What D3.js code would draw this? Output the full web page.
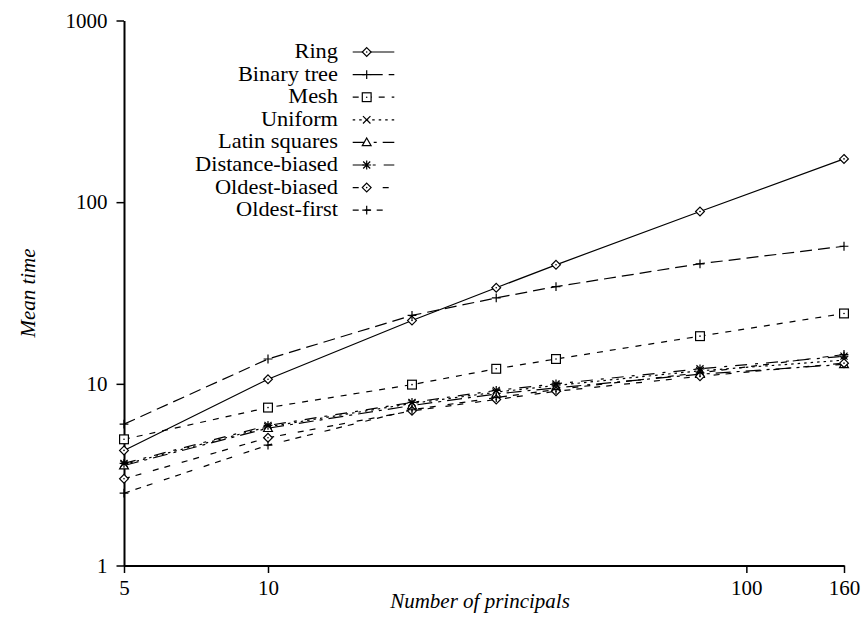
<!DOCTYPE html>
<html>
<head>
<meta charset="utf-8">
<script src="https://cdn.jsdelivr.net/npm/d3@7"></script>
<style>
  body { margin: 0; background: #fff; }
  svg { display: block; }
  text { font-family: "Liberation Serif", "Times New Roman", serif; fill: #000; }
</style>
</head>
<body>
<svg id="chart" width="861" height="623"></svg>
<script>
// Number of principals (x) and mean time per topology (y)
const principals = [5, 10, 20, 30, 40, 80, 160];

const ring           = [4.3, 10.6, 22.3, 33.8, 45.2, 88.8, 173];
const binaryTree     = [6.0, 13.7, 23.8, 29.7, 34.3, 45.8, 57.2];
const mesh           = [4.95, 7.4, 9.9, 12.1, 13.7, 18.3, 24.4];
const uniform        = [3.6, 5.8, 7.8, 9.0, 9.8, 11.8, 13.5];
const latinSquares   = [3.55, 5.7, 7.6, 8.8, 9.5, 11.3, 12.8];
const distanceBiased = [3.65, 5.9, 7.9, 9.2, 10.0, 12.1, 14.2];
const oldestBiased   = [3.0, 5.05, 7.1, 8.2, 9.1, 11.0, 13.0];
const oldestFirst    = [2.5, 4.6, 7.2, 8.4, 9.3, 11.5, 14.5];

const seriesNames  = ["Ring", "Binary tree", "Mesh", "Uniform", "Latin squares",
                      "Distance-biased", "Oldest-biased", "Oldest-first"];
const seriesValues = [ring, binaryTree, mesh, uniform, latinSquares,
                      distanceBiased, oldestBiased, oldestFirst];

const xTickValues = [5, 10, 100, 160];
const yTickValues = [1, 10, 100, 1000];
const xMinorTicks = [6, 7, 8, 9, 20, 30, 40, 50, 60, 70, 80, 90];
const yMinorTicks = [2, 3, 4, 5, 6, 7, 8, 9, 20, 30, 40, 50, 60, 70, 80, 90,
                     200, 300, 400, 500, 600, 700, 800, 900];

// Line pattern and point symbol for each series
const dashes  = [null, "12,6", "6,7", "2.5,4", "15,6,3,6", "12,8,3,8", "6,6,6,12", "6,6,6,6,6,12"];
const symbols = ["diamond", "plus", "square", "cross", "triangle", "star", "diamond", "plus"];

const svg = d3.select("#chart");
const x = d3.scaleLog().domain([5, 160]).range([124, 844]);
const y = d3.scaleLog().domain([1, 1000]).range([565.5, 20.5]);

// Axes
const gx = svg.append("g").attr("transform", "translate(0,565.5)");
gx.call(d3.axisBottom(x).tickValues(xMinorTicks).tickFormat("").tickSize(3.5).tickSizeOuter(0));
gx.call(d3.axisBottom(x).tickValues(xTickValues).tickFormat(d3.format("d"))
  .tickSize(7.5).tickSizeOuter(0).tickPadding(7.5));

const gy = svg.append("g").attr("transform", "translate(124,0)");
gy.call(d3.axisLeft(y).tickValues(yMinorTicks).tickFormat("").tickSize(3.5).tickSizeOuter(0));
gy.call(d3.axisLeft(y).tickValues(yTickValues).tickFormat(d3.format("d"))
  .tickSize(7.5).tickSizeOuter(0).tickPadding(9));

svg.selectAll(".domain").attr("stroke", "#000").attr("stroke-width", 2);
svg.selectAll(".tick line").attr("stroke", "#000").attr("stroke-width", 1.5);
svg.selectAll(".tick text")
  .style("font-family", "'Liberation Serif','Times New Roman',serif")
  .style("font-size", "21px").attr("fill", "#000");

// Axis titles
svg.append("text")
  .attr("x", 480).attr("y", 608)
  .attr("text-anchor", "middle")
  .style("font-size", "21px").style("font-style", "italic")
  .text("Number of principals");

svg.append("text")
  .attr("transform", "translate(35,293) rotate(-90)")
  .attr("text-anchor", "middle")
  .style("font-size", "21px").style("font-style", "italic")
  .text("Mean time");

// Point symbols
function drawSymbol(g, kind) {
  const s = 4.4;
  const common = el => el.attr("fill", "none").attr("stroke", "#000").attr("stroke-width", 1.2);
  if (kind === "diamond") {
    common(g.append("path").attr("d", `M0,${-s}L${s},0L0,${s}L${-s},0Z`)).attr("fill", "#fff");
    g.append("circle").attr("r", 0.8).attr("fill", "#000");
  } else if (kind === "square") {
    common(g.append("rect").attr("x", -s).attr("y", -s).attr("width", 2 * s).attr("height", 2 * s)).attr("fill", "#fff");
    g.append("circle").attr("r", 0.8).attr("fill", "#000");
  } else if (kind === "plus") {
    common(g.append("path").attr("d", `M${-s},0H${s}M0,${-s}V${s}`));
  } else if (kind === "cross") {
    const c = s * 0.85;
    common(g.append("path").attr("d", `M${-c},${-c}L${c},${c}M${-c},${c}L${c},${-c}`));
  } else if (kind === "triangle") {
    common(g.append("path").attr("d", `M0,${-s}L${s},${s * 0.75}L${-s},${s * 0.75}Z`)).attr("fill", "#fff");
  } else if (kind === "star") {
    const c = s * 0.8;
    common(g.append("path").attr("d",
      `M${-s},0H${s}M0,${-s}V${s}M${-c},${-c}L${c},${c}M${-c},${c}L${c},${-c}`));
  }
}

// Series lines and points
const line = d3.line().x(d => x(d[0])).y(d => y(d[1]));
seriesValues.forEach((vals, i) => {
  const pts = principals.map((p, k) => [p, vals[k]]);
  svg.append("path")
    .datum(pts)
    .attr("d", line)
    .attr("fill", "none")
    .attr("stroke", "#000")
    .attr("stroke-width", 1.2)
    .attr("stroke-dasharray", dashes[i]);
});
seriesValues.forEach((vals, i) => {
  principals.forEach((p, k) => {
    const g = svg.append("g").attr("transform", `translate(${x(p)},${y(vals[k])})`);
    drawSymbol(g, symbols[i]);
  });
});

// Legend
const legend = svg.append("g");
seriesNames.forEach((name, i) => {
  const ry = 52 + i * 22.6;
  legend.append("text")
    .attr("transform", `translate(338,${ry}) scale(1.12,1)`)
    .attr("dy", "0.3em")
    .attr("text-anchor", "end")
    .style("font-size", "20px")
    .text(name);
  legend.append("line")
    .attr("x1", 352.7).attr("x2", 394.3)
    .attr("y1", ry).attr("y2", ry)
    .attr("stroke", "#000").attr("stroke-width", 1.2)
    .attr("stroke-dasharray", dashes[i]);
  const g = legend.append("g").attr("transform", `translate(366.7,${ry})`);
  drawSymbol(g, symbols[i]);
});
</script>
</body>
</html>
